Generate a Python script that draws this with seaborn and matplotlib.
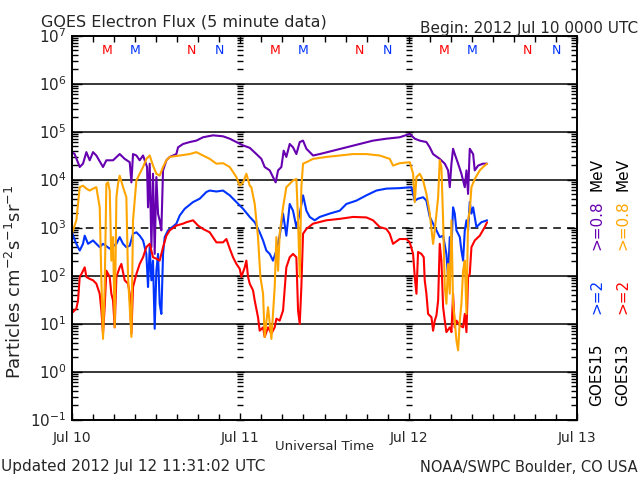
import numpy as np
import pandas as pd
import matplotlib
matplotlib.use("Agg")
import matplotlib.pyplot as plt
import matplotlib.transforms as mtransforms
from matplotlib.ticker import FixedLocator, LogLocator, NullFormatter, MultipleLocator
import seaborn as sns

sns.set_style("ticks")
plt.rcParams["font.family"] = ["DejaVu Sans"]

# ---------------- data (hours since 2012 Jul 10 00:00 UTC, log10 flux) ----------------
goes15_08 = [(0.0, 4.57), (0.38, 4.53), (1.10, 4.26), (1.57, 4.33), (2.05, 4.57), (2.52, 4.40),
             (3.00, 4.57), (3.47, 4.50), (4.42, 4.26), (4.90, 4.40), (5.85, 4.40), (6.80, 4.53),
             (7.51, 4.43), (8.23, 4.36), (8.47, 3.94), (8.70, 4.53), (9.18, 4.50), (9.65, 4.40),
             (10.13, 4.50), (10.70, 4.26), (10.84, 3.42), (11.08, 4.33), (11.32, 2.59), (11.55, 4.12),
             (11.79, 2.45), (12.03, 4.05), (12.27, 3.28), (12.50, 3.15), (12.74, 2.94), (12.98, 4.19),
             (13.46, 4.40), (13.93, 4.47), (14.88, 4.53), (15.12, 4.67), (15.83, 4.74), (16.78, 4.78),
             (17.73, 4.81), (18.68, 4.88), (20.11, 4.92), (21.53, 4.90), (22.49, 4.85), (23.44, 4.78),
             (24.39, 4.71), (25.34, 4.66), (26.29, 4.53), (27.00, 4.43), (27.47, 4.26), (28.19, 4.19),
             (28.66, 4.05), (29.04, 3.94), (29.38, 4.19), (29.85, 4.26), (30.18, 4.60), (30.56, 4.47),
             (31.04, 4.74), (31.51, 4.67), (31.99, 4.53), (32.47, 4.78), (32.94, 4.81), (33.42, 4.64),
             (34.37, 4.50), (35.32, 4.53), (37.22, 4.60), (39.12, 4.67), (41.02, 4.74), (42.92, 4.81),
             (44.82, 4.85), (46.72, 4.88), (48.16, 4.95), (48.87, 4.85), (49.58, 4.81), (50.53, 4.78),
             (51.01, 4.67), (51.48, 4.53), (52.43, 4.43), (53.15, 4.33), (53.62, 4.19), (53.86, 3.84),
             (54.10, 4.33), (54.33, 4.64), (54.57, 4.53), (55.05, 4.33), (55.52, 4.12), (56.00, 3.84),
             (56.24, 4.19), (56.47, 3.70), (56.71, 4.64), (57.19, 4.53), (57.42, 4.19), (57.90, 4.29),
             (58.61, 4.33), (59.18, 4.33)]

goes15_2 = [(0.0, 2.94), (0.15, 2.83), (0.62, 2.66), (1.10, 2.52), (1.57, 2.66), (1.81, 2.83),
            (2.29, 2.66), (3.00, 2.73), (3.47, 2.66), (3.95, 2.59), (4.42, 2.66), (5.38, 2.56),
            (6.33, 2.66), (6.80, 2.80), (7.28, 2.66), (7.75, 2.59), (8.23, 2.62), (8.70, 2.87),
            (9.18, 2.90), (9.65, 2.83), (10.13, 2.73), (10.60, 2.45), (10.84, 1.76), (11.08, 2.59),
            (11.32, 1.90), (11.55, 2.31), (11.79, 0.89), (12.03, 2.10), (12.27, 2.45), (12.50, 1.41),
            (12.74, 1.20), (12.98, 2.45), (13.22, 2.80), (13.69, 2.94), (14.41, 3.02), (14.88, 3.08),
            (15.36, 3.25), (16.07, 3.39), (17.26, 3.53), (18.21, 3.60), (19.16, 3.74), (19.63, 3.77),
            (20.59, 3.75), (21.53, 3.77), (22.49, 3.67), (23.44, 3.53), (24.39, 3.39), (25.34, 3.22),
            (26.05, 3.11), (26.76, 2.90), (27.24, 2.73), (27.71, 2.52), (28.19, 2.45), (28.66, 2.31),
            (29.14, 2.52), (29.61, 2.83), (30.09, 3.29), (30.56, 2.83), (31.04, 3.49), (31.51, 3.35),
            (31.99, 3.01), (32.47, 3.29), (32.94, 3.67), (33.42, 3.35), (33.89, 3.22), (34.60, 3.15),
            (35.32, 3.22), (36.74, 3.29), (38.17, 3.35), (39.12, 3.49), (40.55, 3.56), (41.97, 3.67),
            (43.40, 3.77), (44.82, 3.81), (46.72, 3.82), (48.39, 3.84), (48.87, 3.56), (49.34, 3.60),
            (50.06, 3.63), (50.53, 3.56), (51.01, 3.22), (51.48, 3.08), (51.96, 2.94), (52.43, 2.80),
            (52.91, 2.83), (53.38, 2.45), (53.62, 1.97), (53.86, 2.80), (54.10, 2.59), (54.33, 3.42),
            (54.57, 3.29), (54.81, 2.94), (55.29, 2.80), (55.52, 2.52), (55.76, 2.31), (56.00, 2.94),
            (56.24, 3.15), (56.47, 2.94), (56.71, 3.53), (56.95, 3.29), (57.19, 3.42), (57.66, 3.01),
            (58.37, 3.11), (59.18, 3.15)]

goes13_08 = [(0.0, 2.87), (0.15, 2.94), (0.62, 3.15), (1.10, 3.84), (1.57, 3.87), (2.05, 3.81),
             (2.52, 3.77), (3.00, 3.81), (3.47, 3.84), (3.95, 3.42), (4.19, 1.90), (4.42, 0.68),
             (4.66, 1.76), (4.90, 3.91), (5.14, 3.94), (5.38, 3.77), (5.61, 2.31), (5.85, 2.80),
             (6.09, 0.92), (6.33, 3.63), (6.56, 3.91), (6.80, 4.08), (7.28, 3.84), (7.75, 3.63),
             (7.99, 1.97), (8.23, 1.34), (8.47, 0.72), (8.70, 3.15), (9.18, 3.98), (9.65, 4.12),
             (10.13, 4.26), (10.60, 4.43), (11.08, 4.50), (11.55, 4.29), (12.03, 4.12), (12.50, 4.08),
             (12.98, 4.26), (13.46, 4.40), (13.93, 4.47), (15.36, 4.50), (16.78, 4.53), (17.73, 4.57),
             (18.68, 4.50), (19.63, 4.43), (20.59, 4.33), (21.53, 4.34), (22.49, 4.26), (23.44, 4.05),
             (23.91, 3.87), (24.39, 3.94), (24.86, 4.12), (25.34, 3.87), (25.57, 3.84), (26.05, 3.49),
             (26.52, 2.80), (26.86, 1.97), (27.24, 1.62), (27.47, 0.72), (27.95, 1.34), (28.43, 0.68),
             (28.90, 1.76), (29.14, 2.80), (29.38, 2.10), (29.61, 2.87), (30.09, 3.42), (30.56, 3.84),
             (31.04, 3.91), (31.51, 3.98), (31.99, 4.01), (32.23, 3.15), (32.47, 1.97), (32.70, 3.84),
             (32.94, 4.33), (33.42, 4.36), (34.37, 4.43), (36.27, 4.47), (38.17, 4.50), (40.07, 4.53),
             (41.97, 4.53), (43.87, 4.50), (45.30, 4.43), (45.77, 4.29), (46.72, 4.34), (48.16, 4.36),
             (48.63, 4.12), (48.87, 3.53), (49.11, 4.05), (49.58, 4.12), (50.06, 3.98), (50.53, 3.70),
             (51.01, 3.29), (51.48, 2.66), (51.72, 2.94), (52.20, 3.63), (52.43, 4.40), (52.67, 4.26),
             (52.91, 3.15), (53.15, 1.76), (53.38, 1.41), (53.62, 2.24), (53.86, 1.62), (54.10, 3.15),
             (54.33, 1.41), (54.57, 1.06), (54.81, 0.65), (55.05, 0.44), (55.29, 1.06), (55.52, 1.41),
             (55.76, 2.10), (56.00, 2.31), (56.24, 1.20), (56.47, 3.15), (56.71, 3.35), (56.95, 3.84),
             (57.42, 4.01), (58.14, 4.19), (58.61, 4.26), (59.18, 4.33)]

goes13_2 = [(0.0, 1.31), (0.15, 1.24), (0.62, 1.31), (0.86, 1.48), (1.10, 1.97), (1.34, 2.03),
            (1.81, 2.17), (2.05, 1.97), (2.52, 1.93), (3.00, 1.90), (3.47, 1.83), (3.95, 1.62),
            (4.19, 1.27), (4.42, 0.79), (4.66, 1.34), (4.90, 2.10), (5.38, 1.97), (5.61, 1.62),
            (5.85, 1.48), (6.09, 0.92), (6.33, 1.97), (6.80, 2.17), (7.04, 2.24), (7.51, 1.90),
            (7.99, 1.83), (8.23, 1.62), (8.47, 0.79), (8.70, 1.76), (9.18, 2.03), (9.65, 2.24),
            (10.13, 2.38), (10.60, 2.59), (11.08, 2.66), (11.55, 2.38), (12.03, 2.35), (12.50, 2.31),
            (12.98, 2.59), (13.46, 2.83), (13.93, 2.94), (14.88, 3.04), (15.83, 3.08), (16.31, 3.11),
            (17.26, 3.15), (17.97, 3.04), (18.68, 2.97), (19.63, 2.90), (20.59, 2.69), (21.53, 2.69),
            (22.01, 2.76), (22.49, 2.56), (22.96, 2.38), (23.44, 2.24), (23.91, 2.14), (24.15, 1.97),
            (24.63, 2.17), (24.86, 2.31), (25.10, 1.97), (25.34, 1.83), (25.81, 1.69), (26.05, 1.48),
            (26.52, 1.13), (26.76, 0.85), (27.24, 0.92), (27.47, 0.72), (27.95, 0.92), (28.43, 0.79),
            (28.90, 0.92), (29.14, 1.10), (29.61, 1.06), (30.09, 1.27), (30.56, 2.17), (31.04, 2.38),
            (31.51, 2.45), (31.99, 2.38), (32.23, 1.27), (32.47, 0.99), (32.70, 1.76), (32.94, 2.87),
            (33.42, 2.97), (34.37, 3.08), (36.27, 3.15), (38.17, 3.18), (40.07, 3.22), (41.97, 3.21),
            (42.92, 3.15), (43.87, 3.01), (44.82, 2.97), (45.30, 2.87), (45.77, 2.66), (46.72, 2.76),
            (47.68, 2.76), (48.16, 2.69), (48.63, 2.45), (48.87, 1.97), (49.11, 1.62), (49.34, 2.49),
            (49.82, 2.45), (50.15, 2.38), (50.29, 1.90), (50.53, 1.62), (50.77, 1.20), (51.25, 1.13),
            (51.48, 0.85), (51.72, 1.06), (51.96, 1.17), (52.20, 1.48), (52.43, 2.66), (52.67, 2.31),
            (52.91, 1.34), (53.15, 1.06), (53.38, 0.82), (53.86, 0.92), (54.10, 0.82), (54.33, 1.62),
            (54.57, 0.92), (54.81, 1.06), (55.29, 0.96), (55.76, 0.92), (56.00, 1.20), (56.24, 0.82),
            (56.47, 1.97), (56.71, 2.03), (56.95, 2.59), (57.42, 2.73), (58.14, 2.83), (58.85, 3.01),
            (59.18, 3.11)]

series_names = ["GOES15 >=0.8 MeV", "GOES15 >=2 MeV", "GOES13 >=2 MeV", "GOES13 >=0.8 MeV"]
series_data = [goes15_08, goes15_2, goes13_2, goes13_08]
series_colors = ["#6600B0", "#0033FF", "#FF0000", "#FFA500"]

# local midnight (M) / noon (N) markers, hours UT
g13_midnight = [5, 29, 53]
g15_midnight = [9, 33, 57]
g13_noon = [17, 41, 65]
g15_noon = [21, 45, 69]

day_ticks = [0, 24, 48, 72]
day_labels = ["Jul 10", "Jul 11", "Jul 12", "Jul 13"]
decades = list(range(-1, 8))
solid_grid = [1e0, 1e1, 1e2, 1e4, 1e5, 1e6]
dashed_grid = [1e3]

# ---------------- build table ----------------
rows = []
for name, pts in zip(series_names, series_data):
    for h, e in pts:
        rows.append((name, h, 10.0 ** e))
df = pd.DataFrame(rows, columns=["series", "hour", "flux"])

W, H = 640, 480
def fx(x):
    return x / W
def fy(y):
    return 1 - y / H

fig = plt.figure(figsize=(6.4, 4.8), dpi=100)
fig.patch.set_facecolor("white")
ax = fig.add_axes([fx(72), fy(419.5), 505 / W, 384 / H])
ax.set_yscale("log")

for g in solid_grid:
    ax.axhline(g, color="black", lw=1.1, zorder=1)
for g in dashed_grid:
    ax.axhline(g, color="black", lw=1.1, dashes=(5, 4), zorder=1)

sns.lineplot(data=df, x="hour", y="flux", hue="series", hue_order=series_names,
             palette=dict(zip(series_names, series_colors)), estimator=None, sort=False,
             lw=1.5, legend=False, ax=ax, zorder=3)

ax.set_xlim(day_ticks[0], day_ticks[-1])
ax.set_ylim(10.0 ** decades[0], 10.0 ** decades[-1])
ax.set_xlabel("")
ax.set_ylabel("")

for s in ax.spines.values():
    s.set_color("black")
    s.set_linewidth(1.4)
    s.set_zorder(5)

ax.yaxis.set_major_locator(FixedLocator([10.0 ** d for d in decades]))
ax.yaxis.set_minor_locator(LogLocator(base=10, subs=np.arange(2, 10), numticks=100))
ax.yaxis.set_minor_formatter(NullFormatter())
ax.tick_params(axis="y", which="both", direction="in", left=True, right=True,
               labelsize=11, color="black", pad=4)
ax.tick_params(axis="y", which="major", length=7, width=1)
ax.tick_params(axis="y", which="minor", length=4, width=1)

ax.set_xticks(day_ticks)
ax.set_xticklabels(day_labels)
ax.xaxis.set_minor_locator(MultipleLocator(3))
ax.tick_params(axis="x", which="both", direction="in", top=True, bottom=True,
               labelsize=10, pad=8, color="black")
ax.tick_params(axis="x", which="major", length=5, width=1)
ax.tick_params(axis="x", which="minor", length=4, width=1)

# tick columns at day boundaries
for d in day_ticks[1:-1]:
    frac = (d - day_ticks[0]) / (day_ticks[-1] - day_ticks[0])
    sec = ax.secondary_yaxis(frac)
    for s in sec.spines.values():
        s.set_visible(False)
    sec.yaxis.set_major_locator(FixedLocator([10.0 ** k for k in decades]))
    sec.yaxis.set_minor_locator(LogLocator(base=10, subs=np.arange(2, 10), numticks=100))
    sec.tick_params(which="both", direction="inout", labelleft=False, labelright=False,
                    color="black", width=1)
    sec.tick_params(which="major", length=6)
    sec.tick_params(which="minor", length=5)

# M / N markers at top
trans = mtransforms.blended_transform_factory(ax.transData, ax.transAxes)
for hrs, lab, col in [(g13_midnight, "M", "#FF0000"), (g15_midnight, "M", "#0033FF"),
                      (g13_noon, "N", "#FF0000"), (g15_noon, "N", "#0033FF")]:
    for h in hrs:
        ax.text(h, 0.962, lab, transform=trans, ha="center", va="center",
                color=col, fontsize=9)

# texts
fig.text(fx(41), fy(22), "GOES Electron Flux (5 minute data)", ha="left", va="center", fontsize=11.5)
fig.text(fx(638), fy(28), "Begin: 2012 Jul 10 0000 UTC", ha="right", va="center", fontsize=11)
fig.text(fx(324.5), fy(447), "Universal Time", ha="center", va="center", fontsize=9.5)
fig.text(fx(1), fy(467), "Updated 2012 Jul 12 11:31:02 UTC", ha="left", va="center", fontsize=11)
fig.text(fx(638), fy(467), "NOAA/SWPC Boulder, CO USA", ha="right", va="center", fontsize=10.5)
fig.text(fx(15), fy(282), r"Particles cm$^{-2}$s$^{-1}$sr$^{-1}$", rotation=90,
         ha="center", va="center", fontsize=13)

right_cols = [
    (597, [("GOES15", "black", 375), (">=2", "#0033FF", 296), (">=0.8", "#6600B0", 225), ("MeV", "black", 175)]),
    (623, [("GOES13", "black", 375), (">=2", "#FF0000", 296), (">=0.8", "#FFA500", 225), ("MeV", "black", 175)]),
]
for xc, items in right_cols:
    for txt, col, yc in items:
        fig.text(fx(xc), fy(yc), txt, rotation=90, ha="center", va="center", color=col, fontsize=11)

fig.savefig("out.png", dpi=100, facecolor="white")
